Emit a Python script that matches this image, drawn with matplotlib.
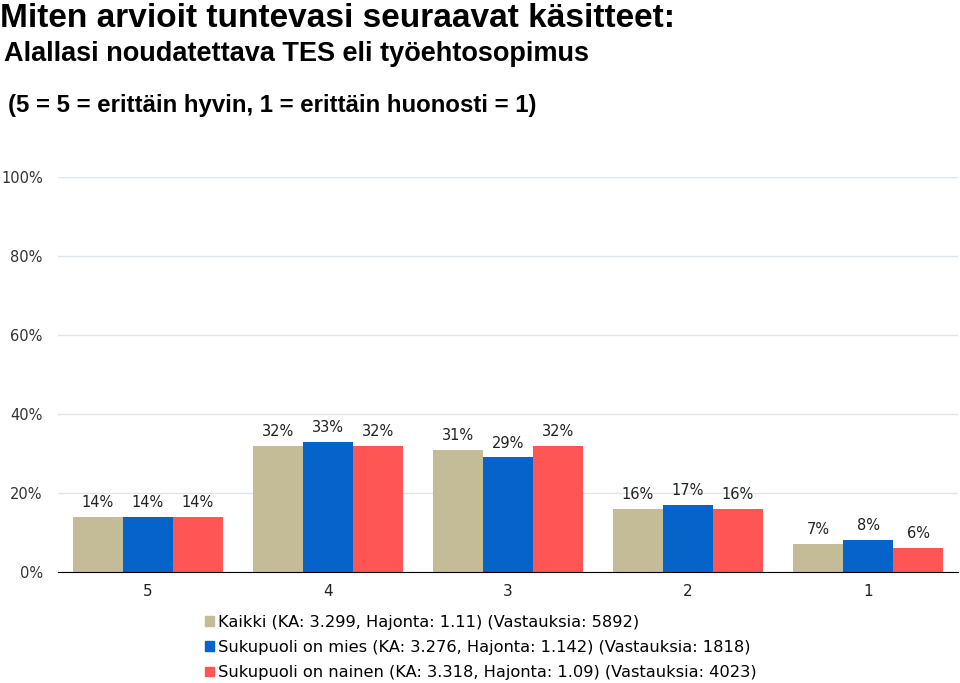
import matplotlib.pyplot as plt
from matplotlib.patches import Patch
import numpy as np

categories = ["5", "4", "3", "2", "1"]
kaikki = [14, 32, 31, 16, 7]
mies = [14, 33, 29, 17, 8]
nainen = [14, 32, 32, 16, 6]
series_labels = [
    "Kaikki (KA: 3.299, Hajonta: 1.11) (Vastauksia: 5892)",
    "Sukupuoli on mies (KA: 3.276, Hajonta: 1.142) (Vastauksia: 1818)",
    "Sukupuoli on nainen (KA: 3.318, Hajonta: 1.09) (Vastauksia: 4023)",
]
colors = ["#C4BC96", "#0563C9", "#FF5555"]
yticks = [0, 20, 40, 60, 80, 100]

fig = plt.figure(figsize=(9.6, 6.83), dpi=100)
ax = fig.add_axes([58 / 960, 111 / 683, 900 / 960, 395 / 683])

x = np.arange(len(categories))
w = 0.278
for i, (vals, col) in enumerate(zip([kaikki, mies, nainen], colors)):
    pos = x + (i - 1) * w
    ax.bar(pos, vals, width=w, color=col, zorder=2)
    for p, v in zip(pos, vals):
        ax.annotate(f"{v}%", (p, v), xytext=(0, 5), textcoords="offset points",
                    ha="center", va="bottom", fontsize=10.5, color="#222222",
                    family="DejaVu Sans")

ax.set_xlim(-0.5, 4.5)
ax.set_ylim(0, 100)
ax.set_yticks(yticks)
ax.set_yticklabels([f"{t}%" for t in yticks], family="DejaVu Sans", fontsize=10.5, color="#333333")
ax.set_xticks(x)
ax.set_xticklabels(categories, family="DejaVu Sans", fontsize=11, color="#222222")
ax.tick_params(length=0)
ax.tick_params(axis="x", pad=9)
ax.tick_params(axis="y", pad=11)
ax.grid(axis="y", color="#DDE5EE", linewidth=1, zorder=0)
for s in ["top", "right", "left"]:
    ax.spines[s].set_visible(False)
ax.spines["bottom"].set_color("#000000")
ax.spines["bottom"].set_zorder(3)

fig.text(0.0, 1 - 27 / 683, "Miten arvioit tuntevasi seuraavat käsitteet:", fontsize=24,
         fontweight="bold", family="Liberation Sans", va="baseline", ha="left")
fig.text(0.004, 1 - 61 / 683, "Alallasi noudatettava TES eli työehtosopimus", fontsize=19.5,
         fontweight="bold", family="Liberation Sans", va="baseline", ha="left")
fig.text(0.008, 1 - 112 / 683, "(5 = 5 = erittäin hyvin, 1 = erittäin huonosti = 1)", fontsize=17.3,
         fontweight="bold", family="Liberation Sans", va="baseline", ha="left")

handles = [Patch(color=c) for c in colors]
fig.legend(handles, series_labels, loc="upper left", bbox_to_anchor=(205 / 960, 1 - 615 / 683),
           frameon=False, handlelength=0.55, handleheight=0.55, handletextpad=0.25,
           labelspacing=0.62, borderpad=0, borderaxespad=0,
           prop={"family": "DejaVu Sans", "size": 11.7})

fig.savefig("out.png", dpi=100)
